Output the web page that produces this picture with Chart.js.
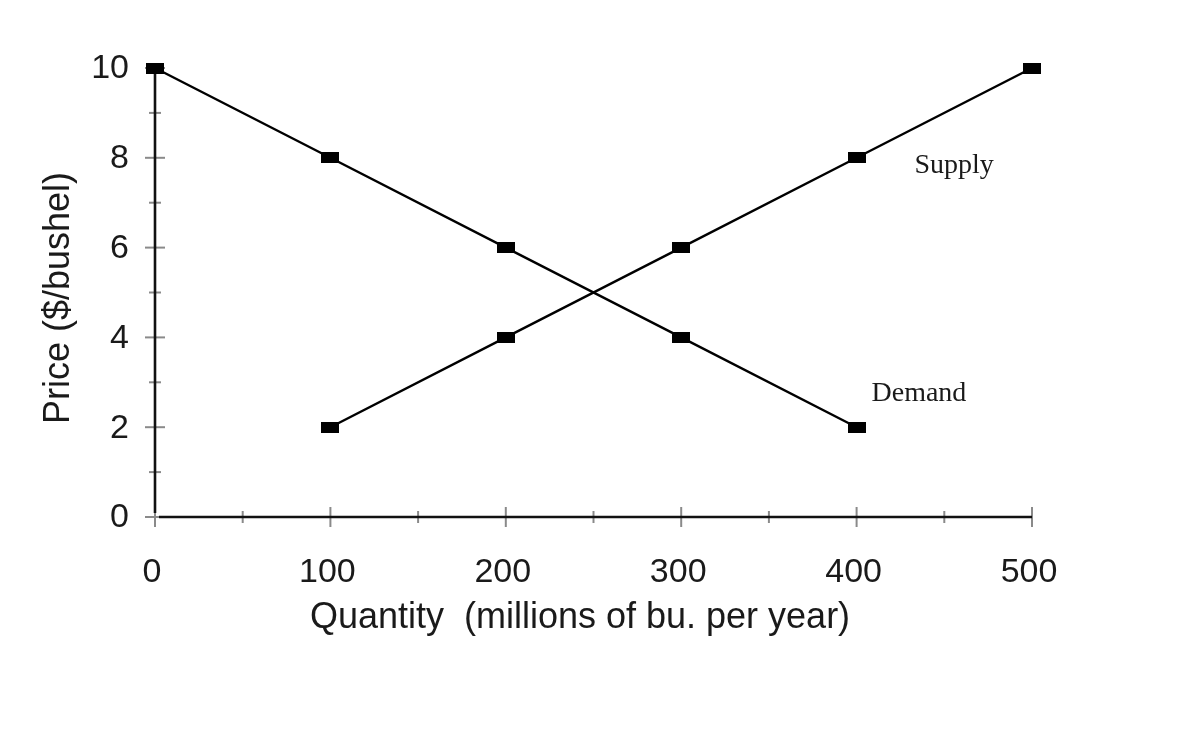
<!DOCTYPE html>
<html>
<head>
<meta charset="utf-8">
<script src="https://cdn.jsdelivr.net/npm/chart.js@4.4.1/dist/chart.umd.min.js"></script>
<style>
  html, body { margin: 0; padding: 0; background: #fff; }
  #wrap { width: 1200px; height: 733px; }
</style>
</head>
<body>
<div id="wrap"><canvas id="chart" width="1200" height="733"></canvas></div>
<script>
// data
const demandQty = [0, 100, 200, 300, 400];
const demandPrice = [10, 8, 6, 4, 2];
const supplyQty = [100, 200, 300, 400, 500];
const supplyPrice = [2, 4, 6, 8, 10];
const xTicks = [0, 100, 200, 300, 400, 500];
const yTicks = [0, 2, 4, 6, 8, 10];

// wide flat marker like the original
const marker = document.createElement('canvas');
marker.width = 18;
marker.height = 11;
const mctx = marker.getContext('2d');
mctx.fillStyle = '#000';
mctx.fillRect(0, 0, 18, 11);

const toPoints = (xs, ys) => xs.map((x, i) => ({ x: x, y: ys[i] }));

// axes, crossing ticks, labels and titles
const axesPlugin = {
  id: 'axesPlugin',
  beforeDatasetsDraw(chart) {
    const ctx = chart.ctx;
    const xs = chart.scales.x;
    const ys = chart.scales.y;
    const x0 = xs.getPixelForValue(0);
    const y0 = ys.getPixelForValue(0);
    ctx.save();

    // ticks (grey, crossing the axis; longer at labelled values)
    ctx.strokeStyle = '#8a8a8a';
    ctx.lineWidth = 2;
    for (let v = 0; v <= 500; v += 50) {
      const px = xs.getPixelForValue(v);
      const h = v % 100 === 0 ? 10 : 6;
      ctx.beginPath();
      ctx.moveTo(px, y0 - h);
      ctx.lineTo(px, y0 + h);
      ctx.stroke();
    }
    for (let v = 0; v <= 10; v += 1) {
      const py = ys.getPixelForValue(v);
      const h = v % 2 === 0 ? 10 : 6;
      ctx.beginPath();
      ctx.moveTo(x0 - h, py);
      ctx.lineTo(x0 + h, py);
      ctx.stroke();
    }

    // axis lines
    ctx.strokeStyle = '#111';
    ctx.lineWidth = 2.6;
    ctx.beginPath();
    ctx.moveTo(x0, ys.getPixelForValue(10));
    ctx.lineTo(x0, y0 - 4);
    ctx.moveTo(x0 + 4, y0);
    ctx.lineTo(xs.getPixelForValue(500), y0);
    ctx.stroke();

    // tick labels
    ctx.fillStyle = '#1a1a1a';
    ctx.font = '34px "Liberation Sans", Arial, sans-serif';
    ctx.textAlign = 'right';
    ctx.textBaseline = 'middle';
    yTicks.forEach(v => ctx.fillText(String(v), x0 - 26, ys.getPixelForValue(v) + 1));
    ctx.textAlign = 'center';
    xTicks.forEach(v => ctx.fillText(String(v), xs.getPixelForValue(v) - 3, y0 + 56));

    // axis titles
    ctx.font = '36px "Liberation Sans", Arial, sans-serif';
    ctx.fillText('Quantity  (millions of bu. per year)', 580, y0 + 101);
    ctx.save();
    ctx.translate(59, 298);
    ctx.rotate(-Math.PI / 2);
    ctx.fillText('Price ($/bushel)', 0, 0);
    ctx.restore();

    // curve names
    ctx.font = '28px "Liberation Serif", "Times New Roman", serif';
    ctx.textAlign = 'left';
    ctx.fillText('Supply', xs.getPixelForValue(433), ys.getPixelForValue(7.82));
    ctx.fillText('Demand', xs.getPixelForValue(408.5), ys.getPixelForValue(2.74));
    ctx.restore();
  }
};

new Chart(document.getElementById('chart'), {
  type: 'line',
  data: {
    datasets: [
      {
        label: 'Demand',
        data: toPoints(demandQty, demandPrice),
        borderColor: '#000',
        borderWidth: 2.4,
        pointStyle: marker,
        pointRadius: 9,
        fill: false,
        tension: 0,
        clip: false
      },
      {
        label: 'Supply',
        data: toPoints(supplyQty, supplyPrice),
        borderColor: '#000',
        borderWidth: 2.4,
        pointStyle: marker,
        pointRadius: 9,
        fill: false,
        tension: 0,
        clip: false
      }
    ]
  },
  options: {
    responsive: false,
    animation: false,
    devicePixelRatio: 1,
    layout: { padding: { left: 155, right: 168, top: 68, bottom: 216 } },
    plugins: {
      legend: { display: false },
      tooltip: { enabled: false }
    },
    scales: {
      x: { type: 'linear', min: 0, max: 500, display: false },
      y: { type: 'linear', min: 0, max: 10, display: false }
    }
  },
  plugins: [axesPlugin]
});
</script>
</body>
</html>
